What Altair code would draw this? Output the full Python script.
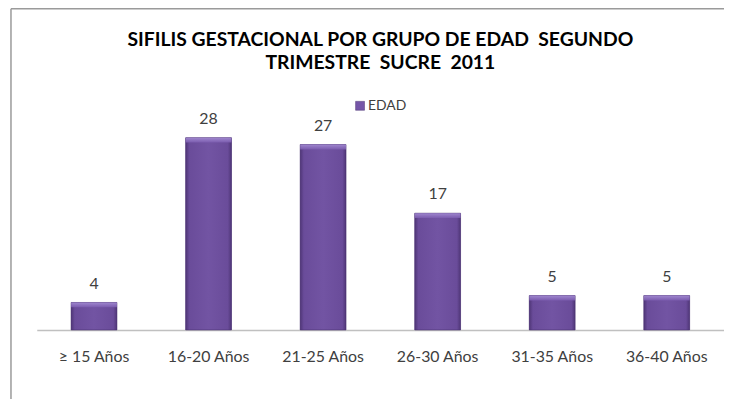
import altair as alt
import pandas as pd

categories = ["≥ 15 Años", "16-20 Años", "21-25 Años", "26-30 Años", "31-35 Años", "36-40 Años"]
values = [4, 28, 27, 17, 5, 5]
series_name = "EDAD"
title_lines = ["SIFILIS GESTACIONAL POR GRUPO DE EDAD \u00a0SEGUNDO", "TRIMESTRE \u00a0SUCRE \u00a02011"]

df = pd.DataFrame({"grupo": categories, "casos": values, "serie": [series_name] * len(values)})

FONT = "Lato"
TXT = "#404040"

x_enc = alt.X("grupo:N", sort=categories,
              scale=alt.Scale(paddingInner=0.6, paddingOuter=0.3),
              axis=alt.Axis(title=None, labelAngle=0, ticks=False, tickSize=0,
                            labelPadding=19, labelFontSize=16, labelColor=TXT,
                            labelFont=FONT, domainColor="#c0c0c0", domainWidth=1.5,
                            grid=False))
y_enc = alt.Y("casos:Q", scale=alt.Scale(domain=[0, 32.5], nice=False), axis=None)

base = alt.Chart(df)

bars_legend = base.mark_bar().encode(
    x=x_enc, y=y_enc,
    color=alt.Color("serie:N", scale=alt.Scale(range=["#7556a8"]),
                    legend=alt.Legend(title=None, orient="none", legendX=319, legendY=-8,
                                      padding=0, symbolType="square", symbolSize=81,
                                      symbolStrokeColor="#4e3575", symbolStrokeWidth=0.5,
                                      labelFont=FONT, labelFontSize=14, labelColor=TXT,
                                      labelOffset=1))
)

gradient = alt.LinearGradient(
    gradient="linear", x1=0, y1=0, x2=1, y2=0,
    stops=[alt.GradientStop(offset=0, color="#4f3677"),
           alt.GradientStop(offset=0.08, color="#6a4c9a"),
           alt.GradientStop(offset=0.5, color="#7254a3"),
           alt.GradientStop(offset=0.92, color="#6a4c9a"),
           alt.GradientStop(offset=1, color="#4f3677")])

bars = base.mark_bar(fill=gradient, stroke="#4a3270", strokeWidth=0.6).encode(x=x_enc, y=y_enc)

top_grad = alt.LinearGradient(
    gradient="linear", x1=0, y1=0, x2=0, y2=1,
    stops=[alt.GradientStop(offset=0, color="#a58dd4"),
           alt.GradientStop(offset=1, color="#7c5db0")])

highlight = base.transform_calculate(top_lo="datum.casos - 0.7").mark_bar(
    fill=top_grad, opacity=0.9, xOffset=0).encode(
    x=x_enc, y=y_enc, y2="top_lo:Q")

labels = base.mark_text(baseline="alphabetic", dy=-14, font=FONT, fontSize=16, color=TXT).encode(
    x=alt.X("grupo:N", sort=categories), y="casos:Q", text="casos:Q")

one = alt.Data(values=[{}])
frame_left = alt.Chart(one).mark_rule(stroke="#9a9a9a", strokeWidth=1.5).encode(
    x=alt.value(-26), y=alt.value(-99), y2=alt.value(320))
frame_top = alt.Chart(one).mark_rule(stroke="#9a9a9a", strokeWidth=1.5).encode(
    x=alt.value(-26), x2=alt.value(720), y=alt.value(-99))

chart = alt.layer(frame_left, frame_top, bars_legend, bars, highlight, labels).properties(
    width=693, height=225,
    padding={"left": 29, "top": 98, "right": 0, "bottom": 68},
    autosize=alt.AutoSizeParams(type="none"),
    title=alt.TitleParams(text=title_lines, font=FONT, fontSize=19.5, fontWeight="bold",
                          color="#000000", anchor="middle", offset=-66, lineHeight=23),
).configure_view(stroke=None)

chart.save("out.html", embed_options={"renderer": "svg", "actions": False})
